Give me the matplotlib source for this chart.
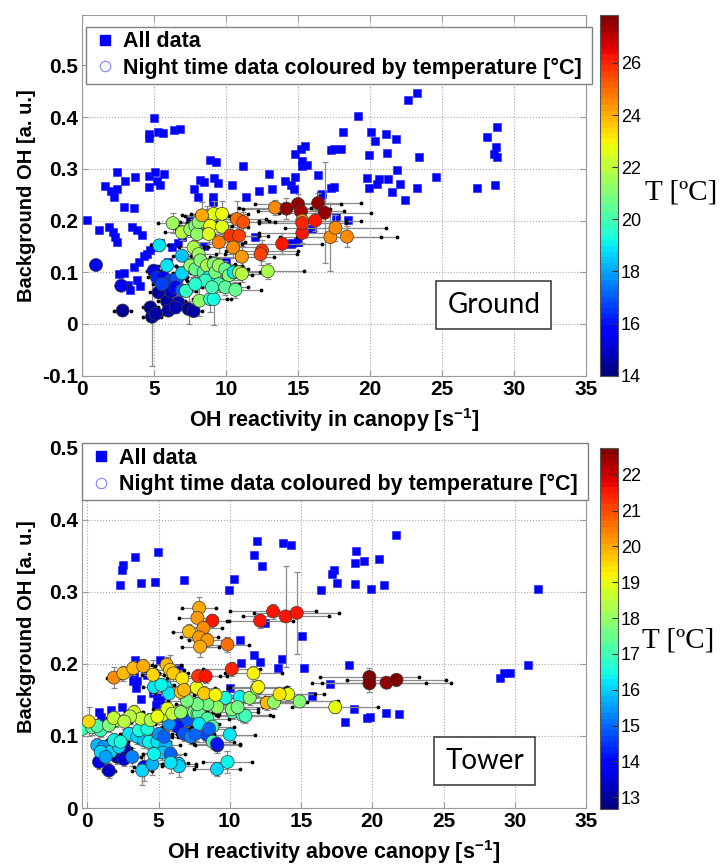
import numpy as np
import matplotlib
matplotlib.use("Agg")
import matplotlib.pyplot as plt
from matplotlib.colors import Normalize
from matplotlib.cm import ScalarMappable
from matplotlib.lines import Line2D

plt.rcParams['font.family'] = ['Liberation Sans', 'DejaVu Sans']
plt.rcParams['mathtext.fontset'] = 'custom'
plt.rcParams['mathtext.bf'] = 'Liberation Sans:bold'
plt.rcParams['mathtext.rm'] = 'Liberation Sans:bold'
plt.rcParams['mathtext.default'] = 'bf'

# ---------------- Ground: all data ----------------
ground_all_x = [4.98, 4.63, 4.63, 5.3, 5.6, 6.4, 6.8, 2.43, 3.0, 3.66, 1.57, 2.04, 2.25, 2.43,
                4.63, 5.05, 5.67, 5.2, 5.44, 4.63, 2.9, 3.59, 0.35, 1.2, 1.85, 2.13, 2.31, 2.43,
                3.47, 3.82, 4.17, 8.9, 9.3, 11.2, 8.2, 8.45, 9.14, 9.44, 7.75, 8.05, 9.1, 9.1,
                10.4, 11.4, 12.3, 13.2, 13.0, 14.1, 14.5, 14.7, 14.8, 15.3, 15.6, 14.8, 15.2, 15.5,
                15.3, 16.4, 16.6, 17.3, 17.3, 2.55, 2.9, 3.59, 3.94, 4.28, 4.51, 4.75, 4.98, 5.44,
                6.25, 6.7, 6.94, 3.2, 3.82, 4.05, 3.36, 12.0, 16.0, 14.5, 15.0,
                22.66, 23.29, 19.2, 18.15, 20.1, 20.35, 21.1, 21.8, 17.5, 18.0, 19.93, 21.2, 23.4,
                21.9, 19.77, 19.93, 20.6, 20.5, 21.25, 22.1, 21.5, 22.4, 23.25, 24.56, 27.4, 28.7,
                28.15, 28.84, 28.78, 28.6, 28.8, 17.5, 16.7, 18.5, 17.66, 15.0, 14.6,
                7.5, 8.5, 10.0, 9.5, 6.0, 7.0, 10.5, 11.0]
ground_all_y = [0.399, 0.368, 0.360, 0.371, 0.370, 0.376, 0.377, 0.294, 0.277, 0.284, 0.266, 0.258, 0.246, 0.261,
                0.287, 0.294, 0.290, 0.277, 0.268, 0.265, 0.227, 0.225, 0.202, 0.181, 0.187, 0.177, 0.168, 0.158,
                0.187, 0.182, 0.173, 0.318, 0.313, 0.306, 0.279, 0.274, 0.283, 0.272, 0.261, 0.245, 0.245, 0.236,
                0.268, 0.245, 0.258, 0.261, 0.290, 0.277, 0.269, 0.261, 0.284, 0.306, 0.308, 0.329, 0.339, 0.345,
                0.316, 0.288, 0.250, 0.337, 0.263, 0.097, 0.098, 0.110, 0.119, 0.132, 0.135, 0.143, 0.148, 0.156,
                0.148, 0.157, 0.168, 0.075, 0.085, 0.074, 0.065, 0.168, 0.184, 0.155, 0.158,
                0.434, 0.447, 0.402, 0.372, 0.371, 0.353, 0.368, 0.357, 0.339, 0.339, 0.326, 0.331, 0.323,
                0.297, 0.282, 0.263, 0.280, 0.271, 0.280, 0.271, 0.255, 0.240, 0.263, 0.284, 0.263, 0.269,
                0.362, 0.381, 0.342, 0.328, 0.323, 0.265, 0.251, 0.201, 0.206, 0.159, 0.156,
                0.200, 0.150, 0.120, 0.090, 0.120, 0.105, 0.100, 0.130]

# ---------------- Ground: night time data ----------------
ground_x = [0.97, 2.73, 2.82, 4.86, 4.75, 5.14, 5.32, 5.90, 6.20, 6.70, 7.40, 7.75, 6.00, 6.50,
            4.98, 5.20, 5.67, 6.13, 6.60, 5.56, 6.48, 6.94, 5.37, 5.90, 6.94, 6.94, 7.22,
            6.30, 6.94, 7.52, 7.87, 8.00, 7.75, 8.10, 7.52, 7.87, 8.22, 8.45, 8.68, 8.80, 9.14,
            9.26, 9.50, 9.95, 10.20, 10.53, 10.90, 11.10, 8.15, 8.90, 9.14, 9.50, 9.95, 10.65,
            8.56, 7.87, 9.03, 8.68, 8.87, 8.10, 9.14, 9.72, 8.90, 9.72, 8.80, 8.33, 10.76, 11.20,
            9.50, 10.30, 10.90, 10.50, 11.10, 12.50, 12.40, 12.90, 13.40, 14.20, 15.00, 16.40,
            16.85, 15.20, 15.30, 16.20, 15.30, 13.90, 15.30, 17.25, 17.60, 18.40]
ground_y = [0.114, 0.074, 0.026, 0.014, 0.032, 0.020, 0.061, 0.044, 0.063, 0.041, 0.029, 0.025, 0.026, 0.032,
            0.103, 0.090, 0.090, 0.084, 0.087, 0.077, 0.071, 0.065, 0.152, 0.113, 0.132, 0.098, 0.064,
            0.195, 0.177, 0.183, 0.190, 0.174, 0.148, 0.135, 0.113, 0.106, 0.123, 0.100, 0.113, 0.090, 0.116,
            0.100, 0.113, 0.106, 0.094, 0.100, 0.100, 0.097, 0.045, 0.048, 0.048, 0.077, 0.071, 0.066,
            0.084, 0.077, 0.071, 0.208, 0.203, 0.197, 0.213, 0.213, 0.190, 0.188, 0.174, 0.210, 0.203, 0.197,
            0.158, 0.171, 0.171, 0.148, 0.130, 0.142, 0.135, 0.102, 0.225, 0.223, 0.232, 0.234,
            0.215, 0.218, 0.200, 0.200, 0.176, 0.155, 0.195, 0.168, 0.186, 0.169]
ground_T = [15.3, 15.5, 14.4, 14.3, 14.3, 14.5, 14.6, 14.5, 15.0, 14.7, 14.4, 14.6, 14.5, 14.8,
            15.2, 16.2, 15.5, 16.5, 17.0, 16.8, 15.8, 17.2, 18.8, 18.9, 18.5, 18.6, 19.8,
            21.5, 21.8, 21.3, 21.0, 21.2, 21.6, 21.4, 21.2, 20.6, 21.0, 20.4, 21.6, 19.0, 21.1,
            20.8, 21.5, 20.5, 21.0, 18.8, 21.6, 21.8, 21.3, 19.5, 19.3, 20.2, 20.3, 20.5,
            19.8, 19.6, 20.0, 21.5, 21.7, 21.3, 22.6, 22.8, 22.7, 22.6, 22.5, 24.0, 25.0, 25.3,
            24.8, 25.7, 25.6, 24.6, 24.3, 25.8, 25.6, 21.6, 24.5, 27.6, 27.5, 27.6,
            27.5, 27.4, 24.6, 26.3, 26.3, 26.2, 26.0, 24.6, 24.5, 24.6]
ground_xerr = [0.3, 0.4, 0.6, 0.6, 0.5, 0.5, 0.6, 0.6, 0.6, 0.5, 0.6, 0.6, 0.5, 0.5,
               0.5, 0.6, 0.6, 0.6, 0.6, 0.6, 0.6, 0.6, 0.6, 0.6, 0.6, 0.6, 0.7,
               1.0, 1.2, 1.0, 1.2, 1.2, 1.0, 1.2, 1.0, 1.2, 1.2, 1.5, 1.5, 1.5, 1.5,
               1.5, 1.6, 1.6, 1.6, 1.8, 1.8, 1.8, 1.0, 1.2, 1.2, 1.4, 1.6, 1.8,
               1.3, 1.2, 1.4, 1.5, 1.5, 1.3, 1.6, 1.8, 1.5, 1.8, 1.5, 1.4, 2.0, 2.2,
               1.8, 2.0, 2.0, 2.0, 2.2, 2.5, 2.5, 2.5, 2.5, 3.0, 3.0, 3.0,
               3.2, 3.0, 3.0, 3.2, 3.0, 2.8, 3.0, 3.5, 3.5, 3.5]
ground_yerr = [0.004, 0.004, 0.004, 0.095, 0.010, 0.010, 0.010, 0.010, 0.010, 0.010, 0.030, 0.010, 0.010, 0.010,
               0.010, 0.010, 0.010, 0.010, 0.010, 0.010, 0.010, 0.010, 0.010, 0.010, 0.010, 0.010, 0.010,
               0.020, 0.015, 0.015, 0.020, 0.015, 0.015, 0.015, 0.015, 0.015, 0.015, 0.015, 0.015, 0.015, 0.015,
               0.015, 0.015, 0.015, 0.015, 0.015, 0.015, 0.015, 0.030, 0.025, 0.050, 0.015, 0.015, 0.015,
               0.015, 0.015, 0.015, 0.020, 0.020, 0.020, 0.025, 0.025, 0.020, 0.020, 0.020, 0.025, 0.035, 0.020,
               0.020, 0.020, 0.020, 0.020, 0.020, 0.020, 0.020, 0.015, 0.015, 0.020, 0.020, 0.020,
               0.098, 0.020, 0.020, 0.020, 0.020, 0.020, 0.020, 0.065, 0.025, 0.020]

# ---------------- Tower: all data ----------------
tower_all_x = [2.30, 2.51, 2.46, 3.36, 3.80, 4.77, 4.98, 6.76, 9.93, 10.28, 11.70, 11.90, 12.28, 13.73,
               12.50, 10.75, 21.67, 14.30, 18.84, 18.80, 19.43, 20.50, 17.30, 17.15, 17.55, 16.40,
               18.80, 19.90, 20.85, 31.65, 15.07, 15.20, 18.37, 17.00, 15.80, 18.70, 19.60, 19.83,
               20.97, 21.90, 18.10, 30.90, 28.94, 29.22, 29.65, 11.70, 12.13, 13.70, 10.77, 13.35,
               3.33, 5.08, 6.44, 10.00, 3.75, 3.40, 4.90, 3.30, 3.20, 3.50, 4.20, 4.60, 5.00, 5.15,
               4.80, 5.27, 4.90, 4.45, 0.82, 1.64, 2.46, 0.94]
tower_all_y = [0.310, 0.338, 0.330, 0.348, 0.312, 0.314, 0.355, 0.316, 0.303, 0.318, 0.351, 0.371, 0.336, 0.368,
               0.257, 0.233, 0.379, 0.365, 0.357, 0.340, 0.343, 0.346, 0.330, 0.325, 0.313, 0.302,
               0.311, 0.304, 0.310, 0.304, 0.239, 0.195, 0.199, 0.172, 0.156, 0.137, 0.125, 0.126,
               0.132, 0.131, 0.119, 0.199, 0.181, 0.188, 0.187, 0.212, 0.203, 0.207, 0.201, 0.194,
               0.205, 0.205, 0.195, 0.167, 0.152, 0.166, 0.154, 0.185, 0.176, 0.176, 0.185, 0.160, 0.170, 0.150,
               0.143, 0.136, 0.129, 0.127, 0.133, 0.136, 0.140, 0.127]

# ---------------- Tower: night time data ----------------
tower_x = [0.82, 1.52, 2.10, 2.58, 2.60,
           6.20, 7.00, 6.32, 6.79, 7.26, 7.60, 8.43, 9.13,
           0.70, 1.17, 1.64, 2.22, 2.93, 3.51, 3.98, 4.33, 4.92, 5.50, 3.16, 3.98, 3.86, 4.57,
           5.27, 5.85, 6.44, 1.87, 0.94, 1.29, 2.34, 3.63, 4.22, 5.04, 5.74, 4.68, 5.39,
           -0.35, 0.35, 0.94, 0.70, 0.10,
           3.28, 3.75, 4.45, 5.27, 5.62, 5.97, 6.56, 4.92, 3.00, 2.00, 1.52, 7.50, 7.73, 1.85, 2.60,
           7.85, 8.43, 8.78,
           9.70, 10.20, 10.90, 10.00, 9.84, 9.10, 6.44, 5.85, 7.85, 8.55, 8.80, 9.10, 10.70, 11.10,
           4.68, 5.50, 5.74, 5.20,
           14.90, 11.40, 11.90, 9.13, 8.43, 7.73, 7.00, 12.60, 13.10, 10.15, 10.55,
           1.87, 2.53, 3.23, 3.93, 4.61, 5.57, 5.81, 6.04, 6.67, 6.56, 6.79, 7.68, 8.20, 9.00,
           11.66, 12.00, 14.10, 17.40, 13.50,
           7.85, 7.73, 8.78, 8.15, 7.14, 7.85, 8.43, 7.92, 9.84,
           10.14, 7.78, 8.31,
           12.13, 13.04, 13.93, 14.70,
           19.80, 19.80, 21.00, 21.70]
tower_y = [0.064, 0.052, 0.071, 0.068, 0.083,
           0.127, 0.122, 0.113, 0.103, 0.099, 0.103, 0.101, 0.087,
           0.087, 0.085, 0.078, 0.085, 0.103, 0.099, 0.094, 0.092, 0.092, 0.087, 0.071, 0.057, 0.052, 0.061,
           0.077, 0.075, 0.061, 0.094, 0.078, 0.071, 0.092, 0.108, 0.110, 0.103, 0.117, 0.075, 0.099,
           0.110, 0.112, 0.108, 0.114, 0.120,
           0.133, 0.124, 0.122, 0.129, 0.138, 0.131, 0.133, 0.127, 0.127, 0.122, 0.115, 0.133, 0.131, 0.125, 0.120,
           0.131, 0.124, 0.113,
           0.153, 0.133, 0.129, 0.102, 0.064, 0.054, 0.058, 0.063, 0.117, 0.110, 0.092, 0.089, 0.154, 0.128,
           0.168, 0.168, 0.159, 0.171,
           0.148, 0.153, 0.166, 0.140, 0.144, 0.144, 0.149, 0.146, 0.147, 0.137, 0.140,
           0.181, 0.187, 0.194, 0.197, 0.185, 0.199, 0.192, 0.187, 0.180, 0.161, 0.164, 0.167, 0.159, 0.157,
           0.187, 0.168, 0.158, 0.140, 0.158,
           0.278, 0.264, 0.260, 0.250, 0.245, 0.237, 0.233, 0.224, 0.227,
           0.193, 0.183, 0.183,
           0.260, 0.273, 0.266, 0.271,
           0.182, 0.173, 0.174, 0.178]
tower_T = [13.7, 13.3, 13.0, 13.5, 13.2,
           14.5, 14.8, 14.2, 14.8, 15.3, 15.0, 14.6, 13.3,
           15.8, 15.5, 16.0, 16.1, 16.2, 16.0, 15.9, 16.3, 16.2, 15.8, 15.2, 14.0, 16.0, 15.7,
           15.9, 15.0, 16.1, 16.4, 16.0, 15.6, 16.6, 16.6, 16.6, 15.5, 15.4, 16.4, 15.0,
           17.0, 17.3, 17.0, 17.2, 19.5,
           18.7, 18.5, 18.3, 18.8, 18.9, 18.6, 18.0, 19.0, 18.4, 18.6, 17.8, 17.6, 17.5, 18.5, 18.4,
           17.3, 17.1, 17.2,
           16.5, 17.2, 16.9, 16.2, 16.3, 16.1, 16.0, 16.2, 16.2, 15.0, 17.0, 14.2, 16.4, 17.0,
           16.2, 16.1, 16.2, 16.3,
           17.8, 18.0, 18.1, 17.9, 17.6, 17.7, 17.7, 19.8, 18.0, 17.8, 17.7,
           20.3, 19.8, 19.9, 20.0, 19.5, 19.8, 19.6, 19.6, 19.3, 19.9, 19.8, 19.1, 19.6, 19.2,
           19.2, 19.2, 19.1, 19.0, 19.3,
           20.0, 20.1, 21.5, 20.3, 19.8, 20.2, 20.2, 20.0, 20.7,
           21.4, 21.3, 21.5,
           21.5, 21.6, 21.6, 21.5,
           22.6, 22.6, 22.5, 22.6]
tower_xerr = [0.3, 0.4, 0.5, 0.5, 0.5,
              1.1, 1.3, 1.1, 1.2, 1.3, 1.3, 1.5, 1.6,
              0.3, 0.4, 0.4, 0.5, 0.6, 0.7, 0.7, 0.8, 0.9, 1.0, 0.6, 0.7, 0.7, 0.8,
              0.9, 1.0, 1.2, 0.5, 0.3, 0.4, 0.5, 0.7, 0.8, 0.9, 1.0, 0.8, 1.0,
              0.3, 0.3, 0.3, 0.3, 0.3,
              0.6, 0.7, 0.8, 0.9, 1.0, 1.0, 1.1, 0.9, 0.6, 0.5, 0.4, 1.3, 1.3, 0.5, 0.5,
              1.4, 1.5, 1.5,
              1.6, 1.8, 1.9, 1.8, 1.7, 1.6, 1.2, 1.2, 1.4, 1.5, 1.5, 1.6, 1.8, 1.9,
              0.8, 1.0, 1.0, 0.9,
              2.7, 2.0, 2.0, 1.6, 1.5, 1.5, 1.3, 2.2, 2.3, 1.8, 1.8,
              0.5, 0.6, 0.7, 0.8, 0.8, 1.0, 1.0, 1.0, 1.1, 1.1, 1.1, 1.3, 1.4, 1.5,
              2.0, 2.0, 2.5, 3.0, 2.5,
              1.2, 1.3, 1.2, 1.3, 1.1, 1.3, 1.3, 1.3, 1.5,
              2.0, 1.5, 1.5,
              2.3, 3.0, 3.0, 3.0,
              3.5, 4.0, 4.5, 3.5]
tower_yerr = [0.010, 0.010, 0.010, 0.010, 0.010,
              0.010, 0.010, 0.010, 0.010, 0.010, 0.010, 0.010, 0.010,
              0.010, 0.010, 0.010, 0.010, 0.010, 0.010, 0.010, 0.010, 0.010, 0.010, 0.012, 0.020, 0.020, 0.015,
              0.010, 0.010, 0.010, 0.010, 0.010, 0.010, 0.010, 0.010, 0.010, 0.010, 0.010, 0.010, 0.010,
              0.010, 0.010, 0.010, 0.010, 0.020,
              0.010, 0.010, 0.010, 0.010, 0.010, 0.010, 0.010, 0.010, 0.010, 0.010, 0.010, 0.010, 0.010, 0.010, 0.010,
              0.010, 0.010, 0.010,
              0.010, 0.010, 0.010, 0.010, 0.015, 0.010, 0.015, 0.015, 0.010, 0.010, 0.010, 0.010, 0.010, 0.010,
              0.010, 0.010, 0.010, 0.010,
              0.008, 0.010, 0.010, 0.010, 0.010, 0.010, 0.010, 0.010, 0.010, 0.010, 0.010,
              0.015, 0.010, 0.010, 0.010, 0.020, 0.010, 0.020, 0.010, 0.010, 0.010, 0.010, 0.010, 0.010, 0.010,
              0.010, 0.010, 0.012, 0.008, 0.010,
              0.015, 0.012, 0.010, 0.010, 0.010, 0.010, 0.010, 0.015, 0.010,
              0.010, 0.010, 0.010,
              0.010, 0.010, 0.070, 0.057,
              0.012, 0.012, 0.008, 0.008]

x_ticks = [0, 5, 10, 15, 20, 25, 30, 35]
ground_yticks = [-0.1, 0, 0.1, 0.2, 0.3, 0.4, 0.5]
tower_yticks = [0, 0.1, 0.2, 0.3, 0.4, 0.5]
ground_cticks = [14, 16, 18, 20, 22, 24, 26]
tower_cticks = [13, 14, 15, 16, 17, 18, 19, 20, 21, 22]

W, H = 721, 865
fig = plt.figure(figsize=(W / 100, H / 100), dpi=100)
cmap = plt.get_cmap('jet', 64)


def box(l, t, r, b):
    return [l / W, 1 - b / H, (r - l) / W, (b - t) / H]


def panel(ax, cax, sx, sy, x, y, T, xe, ye, norm, xlim, ylim, yticks, cticks,
          xlabel, tag, tag_xy, legend_bbox):
    x = np.asarray(x); y = np.asarray(y); xe = np.asarray(xe); ye = np.asarray(ye)
    ax.scatter(sx, sy, marker='s', s=32, c='#0000ff', edgecolors='#1a1aff',
               linewidths=0.4, zorder=1.5)
    ax.errorbar(x, y, xerr=xe, fmt='none', ecolor='#8a8a8a', elinewidth=0.9,
                capsize=0, zorder=2)
    ax.errorbar(x, y, yerr=ye, fmt='none', ecolor='#8a8a8a', elinewidth=0.9,
                capsize=2.5, capthick=0.9, zorder=2)
    ax.scatter(np.r_[x - xe, x + xe], np.r_[y, y], s=3, c='k', zorder=2.2)
    ax.scatter(x, y, c=T, cmap=cmap, norm=norm, s=88, edgecolors='#3a3a3a',
               linewidths=0.5, zorder=3)

    ax.set_xlim(*xlim)
    ax.set_ylim(*ylim)
    ax.set_xticks(x_ticks)
    ax.set_yticks(yticks)
    ax.set_yticklabels(['%g' % v for v in yticks])
    ax.grid(True, linestyle=':', color='#a8a8a8', linewidth=0.8)
    ax.set_axisbelow(True)
    for s in ax.spines.values():
        s.set_color('#9a9a9a')
    ax.tick_params(direction='in', length=4, color='#9a9a9a', labelsize=15,
                   pad=3, top=True, right=True)
    for lab in ax.get_xticklabels() + ax.get_yticklabels():
        lab.set_fontweight('bold')
    ax.set_xlabel(xlabel, fontsize=15.5, fontweight='bold')
    ax.set_ylabel('Background OH [a. u.]', fontsize=14.5, fontweight='bold')
    ax.xaxis.set_label_coords(0.5, -0.083)
    ax.yaxis.set_label_coords(-0.092, 0.5)

    ax.text(tag_xy[0], tag_xy[1], tag, family='Lato', fontsize=20, ha='center',
            va='center', zorder=5,
            bbox=dict(boxstyle='square,pad=0.4', fc='white', ec='#333333', lw=1.1))

    handles = [Line2D([], [], ls='none', marker='s', ms=6.5, mfc='#0000ff', mec='#0000ff'),
               Line2D([], [], ls='none', marker='o', ms=7.5, mfc='none', mec='#8080ff', mew=0.8)]
    leg = ax.legend(handles, ['All data', 'Night time data coloured by temperature [°C]'],
                    loc='upper left', bbox_to_anchor=legend_bbox, mode='expand',
                    borderaxespad=0, fancybox=False, framealpha=1, edgecolor='#808080',
                    prop=dict(weight='bold', size=15.5), handlelength=1.3,
                    handletextpad=0.2, labelspacing=0.25, borderpad=0.22)
    leg.get_frame().set_linewidth(1.0)
    leg.set_zorder(6)

    cb = fig.colorbar(ScalarMappable(norm=norm, cmap=cmap), cax=cax)
    cb.set_ticks(cticks)
    cb.ax.tick_params(direction='in', length=4, labelsize=13, pad=2, color='#333333')
    cb.outline.set_edgecolor('#555555')
    cb.outline.set_linewidth(0.8)


# Ground panel
ax1 = fig.add_axes(box(82, 14.7, 586, 375.7))
cax1 = fig.add_axes(box(600, 14.7, 618, 375.7))
panel(ax1, cax1, ground_all_x, ground_all_y, ground_x, ground_y, ground_T,
      ground_xerr, ground_yerr, Normalize(14, 27.85), (0, 35), (-0.1, 0.598),
      ground_yticks, ground_cticks, 'OH reactivity in canopy [s$^{-1}$]',
      'Ground', (28.6, 0.037), (0.008, 0.79, 1.004, 0.177))
fig.text(645 / W, 1 - 193 / H, 'T [ºC]', family='Liberation Serif', fontsize=21,
         ha='left', va='center')

# Tower panel
ax2 = fig.add_axes(box(82, 445, 586, 808))
cax2 = fig.add_axes(box(600, 448, 618, 809))
panel(ax2, cax2, tower_all_x, tower_all_y, tower_x, tower_y, tower_T,
      tower_xerr, tower_yerr, Normalize(12.67, 22.75), (-0.37, 35), (0, 0.504),
      tower_yticks, tower_cticks, 'OH reactivity above canopy [s$^{-1}$]',
      'Tower', (27.9, 0.065), (0.0, 0.828, 1.004, 0.177))
fig.text(642 / W, 1 - 640 / H, 'T [ºC]', family='Liberation Serif', fontsize=21,
         ha='left', va='center')

fig.savefig('out.png', dpi=100)
